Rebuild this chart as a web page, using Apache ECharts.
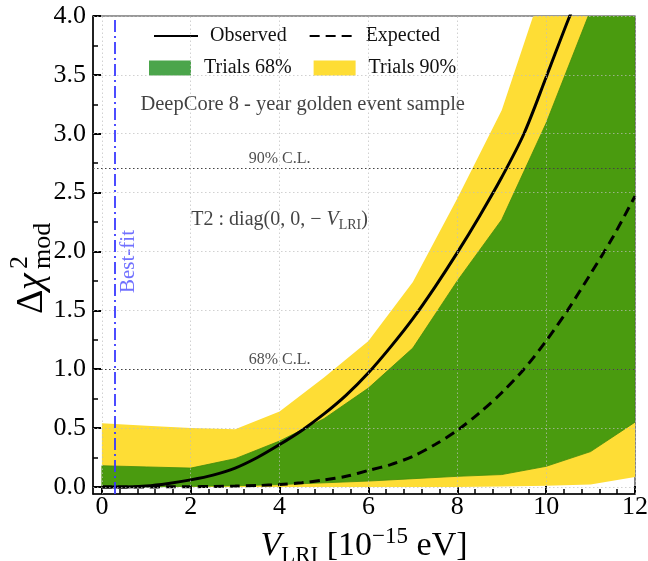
<!DOCTYPE html>
<html><head><meta charset="utf-8">
<script src="https://cdn.jsdelivr.net/npm/echarts@6/dist/echarts.min.js"></script>
<style>html,body{margin:0;padding:0;background:#fff}#c{width:648px;height:561px}</style>
</head><body><div id="c"></div>
<script>
// ---- data ----
const vBand   = [0, 1, 2, 3, 4, 5, 6, 7, 8, 9, 10, 11, 12];
const upper90 = [0.54, 0.52, 0.50, 0.49, 0.64, 0.93, 1.24, 1.74, 2.45, 3.20, 4.33, 5.30, 6.30];
const lower90 = [0.0, 0.0, 0.0, 0.0, 0.0, 0.0, 0.0, 0.0, 0.0, 0.003, 0.01, 0.02, 0.085];
const upper68 = [0.18, 0.17, 0.16, 0.24, 0.39, 0.58, 0.84, 1.18, 1.75, 2.27, 3.09, 4.05, 5.00];
const lower68 = [0.0, 0.0, 0.005, 0.01, 0.02, 0.035, 0.05, 0.07, 0.09, 0.105, 0.175, 0.30, 0.55];

const vCurve   = [0, 0.5, 1, 1.5, 2, 2.5, 3, 3.5, 4, 4.5, 5, 5.5, 6, 6.5, 7, 7.5, 8, 8.5, 9, 9.5, 10, 10.5, 11, 11.5, 12];
const observed = [0, 0.0, 0.008, 0.03, 0.06, 0.10, 0.16, 0.25, 0.36, 0.48, 0.62, 0.78, 0.97, 1.19, 1.43, 1.70, 1.99, 2.30, 2.63, 3.00, 3.48, 3.97, 4.42, 4.95, 5.50];
const expected = [0, 0.0, 0.0, 0.001, 0.002, 0.004, 0.007, 0.012, 0.02, 0.035, 0.06, 0.09, 0.14, 0.19, 0.26, 0.36, 0.48, 0.63, 0.80, 1.00, 1.24, 1.51, 1.81, 2.12, 2.47];

const bestFit = 0.3;
const clLevels = [2.71, 1.0];
const clLabels = ['90% C.L.', '68% C.L.'];

const xMajorTicks = [0, 2, 4, 6, 8, 10, 12];
const xTickLabels = ['0', '2', '4', '6', '8', '10', '12'];
const xMinorTicks = [0.4, 0.8, 1.2, 1.6, 2.4, 2.8, 3.2, 3.6, 4.4, 4.8, 5.2, 5.6, 6.4, 6.8, 7.2, 7.6, 8.4, 8.8, 9.2, 9.6, 10.4, 10.8, 11.2, 11.6];
const yMajorTicks = [0, 0.5, 1, 1.5, 2, 2.5, 3, 3.5, 4];
const yTickLabels = ['0.0', '0.5', '1.0', '1.5', '2.0', '2.5', '3.0', '3.5', '4.0'];
const yMinorTicks = [0.25, 0.75, 1.25, 1.75, 2.25, 2.75, 3.25, 3.75];

// annotation anchor positions (data coords)
const clLabelX = 4;
const bestFitLabelPos = [0.6, 1.915];
const modelLabelPos = [4.0, 2.27];
const sampleLabelPos = [4.52, 3.25];

// ---- chart ----
const FONT = 'Liberation Serif';
const chart = echarts.init(document.getElementById('c'), null, {renderer: 'canvas'});
const lookup = (ticks, labels) => v => {
  const i = ticks.findIndex(t => Math.abs(t - v) < 1e-9);
  return i >= 0 ? labels[i] : '';
};

function bandSeries(name, upper, lower, fill, stroke) {
  return {
    type: 'custom', name: name, clip: true, silent: true, z: 1,
    itemStyle: {color: fill},
    data: [[vBand[0], lower[0]]],
    encode: {x: 0, y: 1},
    renderItem: function (params, api) {
      const pts = [];
      for (let i = 0; i < vBand.length; i++) pts.push(api.coord([vBand[i], upper[i]]));
      for (let i = vBand.length - 1; i >= 0; i--) pts.push(api.coord([vBand[i], lower[i]]));
      return {type: 'polygon', shape: {points: pts},
        style: {fill: fill, stroke: stroke || null, lineWidth: stroke ? 0.8 : 0}};
    }
  };
}

const gridLineStyle = {color: 'rgba(190,190,190,0.7)', width: 1, type: [1.5, 2.5]};
const gridMarks = []
  .concat(xMajorTicks.map(v => ({xAxis: v, lineStyle: gridLineStyle})))
  .concat(yMajorTicks.map(v => ({yAxis: v, lineStyle: gridLineStyle})));
const clMarks = clLevels.map(v => ({yAxis: v, lineStyle: {color: '#444', width: 1.2, type: [1.5, 2.5]}}));
const bestMark = {xAxis: bestFit, lineStyle: {color: '#3a3aff', width: 1.8, type: [12, 4, 2, 4]}};

const annotData = [];
clLevels.forEach((v, i) => annotData.push({
  value: [clLabelX, v],
  label: {show: true, position: 'top', distance: 1, formatter: clLabels[i], fontFamily: FONT, fontSize: 16, color: '#222'}
}));
annotData.push({
  value: bestFitLabelPos,
  label: {show: true, position: 'inside', rotate: 90, formatter: 'Best-fit', fontFamily: FONT, fontSize: 21, color: '#4d4dff'}
});
annotData.push({
  value: modelLabelPos,
  label: {show: true, position: 'inside', fontFamily: FONT, color: '#111',
    formatter: '{n|T2 : diag(0, 0, − }{i|V}{s|LRI}{n|)}',
    rich: {
      n: {fontFamily: FONT, fontSize: 20, lineHeight: 26, color: '#111'},
      i: {fontFamily: FONT, fontSize: 20, lineHeight: 26, fontStyle: 'italic', color: '#111'},
      s: {fontFamily: FONT, fontSize: 14, lineHeight: 12, verticalAlign: 'bottom', color: '#111'}
    }}
});
annotData.push({
  value: sampleLabelPos,
  label: {show: true, position: 'inside', formatter: 'DeepCore 8 - year golden event sample', fontFamily: FONT, fontSize: 20.5, color: '#111'}
});

const option = {
  animation: false,
  backgroundColor: '#fff',
  grid: {left: 93, right: 13, top: 16, bottom: 67, show: true, borderColor: '#333', borderWidth: 1.2,
    backgroundColor: 'transparent', containLabel: false, outerBoundsMode: 'none'},
  xAxis: [
    {type: 'value', min: -0.2, max: 12, position: 'bottom',
      axisLine: {show: true, onZero: false, lineStyle: {color: '#000', width: 1.5}},
      axisTick: {show: true, inside: true, length: 8, lineStyle: {color: '#000', width: 2}, customValues: xMajorTicks},
      axisLabel: {customValues: xMajorTicks, formatter: lookup(xMajorTicks, xTickLabels), fontFamily: FONT, fontSize: 26, color: '#000', margin: 0},
      splitLine: {show: false},
      name: '{i|V}{sub|LRI}{n| [10}{sup|−15}{n| eV]}',
      nameLocation: 'middle', nameGap: 31,
      nameTextStyle: {fontFamily: FONT, fontSize: 34, color: '#000',
        rich: {
          i: {fontFamily: FONT, fontSize: 34, fontStyle: 'italic', lineHeight: 42, color: '#000'},
          n: {fontFamily: FONT, fontSize: 34, lineHeight: 42, color: '#000'},
          sub: {fontFamily: FONT, fontSize: 23, lineHeight: 20, verticalAlign: 'bottom', color: '#000'},
          sup: {fontFamily: FONT, fontSize: 23, lineHeight: 20, verticalAlign: 'top', color: '#000'}
        }}
    },
    {type: 'value', min: -0.2, max: 12, position: 'bottom',
      axisLine: {show: false, onZero: false},
      axisTick: {show: true, inside: true, length: 5, lineStyle: {color: '#000', width: 1.5}, customValues: xMinorTicks},
      axisLabel: {show: false}, splitLine: {show: false}}
  ],
  yAxis: [
    {type: 'value', min: -0.06, max: 4, position: 'left',
      axisLine: {show: true, onZero: false, lineStyle: {color: '#000', width: 1.5}},
      axisTick: {show: true, inside: true, length: 8, lineStyle: {color: '#000', width: 2}, customValues: yMajorTicks},
      axisLabel: {customValues: yMajorTicks, formatter: lookup(yMajorTicks, yTickLabels), fontFamily: FONT, fontSize: 26, color: '#000', margin: 7},
      splitLine: {show: false}},
    {type: 'value', min: -0.06, max: 4, position: 'left',
      axisLine: {show: false, onZero: false},
      axisTick: {show: true, inside: true, length: 5, lineStyle: {color: '#000', width: 1.5}, customValues: yMinorTicks},
      axisLabel: {show: false}, splitLine: {show: false}}
  ],
  legend: [
    {data: ['Observed', 'Expected'], left: 153, top: 26, padding: 0, itemWidth: 44, itemHeight: 14, itemGap: 22,
      itemStyle: {opacity: 0},
      selectedMode: false, textStyle: {fontFamily: FONT, fontSize: 20, color: '#111', padding: [0, 0, 0, 7]}},
    {data: [{name: 'Trials 68%', icon: 'rect', itemStyle: {color: '#4ba54b'}},
            {name: 'Trials 90%', icon: 'rect', itemStyle: {color: '#fedd35'}}],
      left: 149, top: 58, padding: 0, itemWidth: 42, itemHeight: 15, itemGap: 22,
      selectedMode: false, textStyle: {fontFamily: FONT, fontSize: 20, color: '#111', padding: [0, 0, 0, 8]}}
  ],
  graphic: [{
    type: 'group', x: 32, y: 262, rotation: Math.PI / 2,
    children: [
      {type: 'text', x: -52, y: 0, style: {text: 'Δ', font: '38px "Liberation Serif"', fill: '#000', verticalAlign: 'middle', align: 'left'}},
      {type: 'text', x: -28, y: 0, style: {text: 'χ', font: 'italic 38px "Liberation Serif"', fill: '#000', verticalAlign: 'middle', align: 'left'}},
      {type: 'text', x: -7, y: -12, style: {text: '2', font: '26px "Liberation Serif"', fill: '#000', verticalAlign: 'middle', align: 'left'}},
      {type: 'text', x: -7, y: 11, style: {text: 'mod', font: '26px "Liberation Serif"', fill: '#000', verticalAlign: 'middle', align: 'left'}}
    ]
  }],
  series: [
    bandSeries('Trials 90%', upper90, lower90, '#fedd35', null),
    bandSeries('Trials 68%', upper68, lower68, '#4a9b0f', '#3f8a0c'),
    {type: 'scatter', name: 'annot', symbolSize: 0, silent: true, z: 3, data: annotData,
      markLine: {silent: true, symbol: ['none', 'none'], label: {show: false}, animation: false,
        data: gridMarks.concat(clMarks).concat([bestMark])}},
    {type: 'line', name: 'Expected', showSymbol: false, symbol: 'none', smooth: 0.3, z: 4,
      data: vCurve.map((v, i) => [v, expected[i]]),
      lineStyle: {color: '#000', width: 3, type: [10, 6]}, itemStyle: {color: '#000'}},
    {type: 'line', name: 'Observed', showSymbol: false, symbol: 'none', smooth: 0.3, z: 4,
      data: vCurve.map((v, i) => [v, observed[i]]),
      lineStyle: {color: '#000', width: 3}, itemStyle: {color: '#000'}}
  ]
};
chart.setOption(option);
</script></body></html>
